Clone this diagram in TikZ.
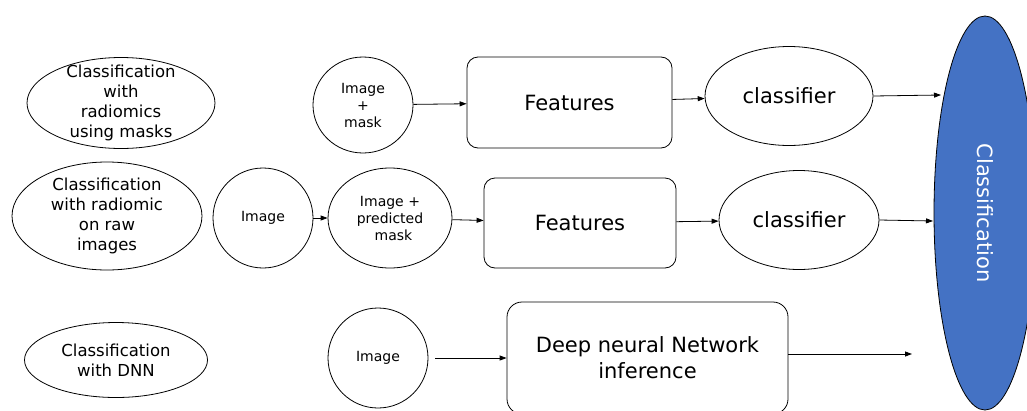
\documentclass[tikz,border=0pt]{standalone}
\usepackage{fontspec}
\setmainfont{DejaVu Sans}
\usetikzlibrary{shapes.geometric,arrows.meta}
\definecolor{clsblue}{HTML}{4472C4}
\begin{document}
\begin{tikzpicture}[x=1pt,y=-1pt,
  base/.style={draw=black, line width=0.8pt, inner sep=0pt, align=center, text=black},
  ell/.style={base, ellipse},
  rbox/.style={base, rectangle, rounded corners=11pt},
  arr/.style={-{Triangle[length=7pt,width=5pt]}, line width=0.8pt},
  fsmall/.style={font=\fontsize{14}{17}\selectfont},
  fmid/.style={font=\fontsize{16.5}{20}\selectfont},
  fbig/.style={font=\fontsize{21}{26}\selectfont}]
\useasboundingbox (0,0) rectangle (1027,410);
\clip (0,0) rectangle (1027,410);

% left labels
\node[ell, fmid, inner ysep=-8pt, minimum width=188pt, minimum height=91pt] (e1) at (121,103) {Classification\\with\\radiomics\\using masks};
\node[ell, fmid, inner ysep=-4pt, minimum width=190pt, minimum height=108pt] (e2) at (107,216) {Classification\\with radiomic\\on raw\\images};
\node[ell, fmid, minimum width=183pt, minimum height=75pt] (e3) at (116,360) {Classification\\with DNN};

% row 1
\node[ell, fsmall, minimum width=100pt, minimum height=96pt] (mask) at (363,105) {Image\\+\\mask};
\node[rbox, fbig, minimum width=205pt, minimum height=91pt] (feat1) at (569.5,102.5) {Features};
\node[ell, fbig, minimum width=168pt, minimum height=99pt] (clf1) at (789,96) {classifier};

% row 2
\node[ell, fsmall, minimum width=100pt, minimum height=100pt] (img2) at (263,218) {Image};
\node[ell, fsmall, minimum width=124pt, minimum height=100pt] (ip) at (390,218) {Image +\\predicted\\\hspace*{0.5em}mask};
\node[rbox, fbig, minimum width=192pt, minimum height=90pt] (feat2) at (580,223) {Features};
\node[ell, fbig, minimum width=160pt, minimum height=99pt] (clf2) at (799,220) {classifier};

% row 3
\node[ell, fsmall, minimum width=100pt, minimum height=100pt] (img3) at (378,358) {Image};
\node[rbox, fbig, rounded corners=15pt, minimum width=281pt, minimum height=112pt] (dnn) at (647.5,358) {Deep neural Network\\inference};

% classification
\node[ell, fill=clsblue, text=white, font=\fontsize{21}{26}\selectfont, rotate=-90, minimum width=394pt, minimum height=102pt] (cls) at (985,213) {Classification};

\coordinate (t1) at (941,95);
\coordinate (t2) at (933,221);
\coordinate (t3) at (912,354);

\draw[arr] (mask) -- (feat1);
\draw[arr] (feat1) -- (clf1);
\draw[arr] (clf1.east) -- (t1);
\draw[arr] (img2) -- (ip);
\draw[arr] (ip) -- (feat2);
\draw[arr] (feat2) -- (clf2);
\draw[arr] (clf2.east) -- (t2);
\draw[arr, shorten <=7pt] (img3) -- (dnn);
\draw[arr] ([yshift=4pt]dnn.east) -- (t3);
\end{tikzpicture}
\end{document}
